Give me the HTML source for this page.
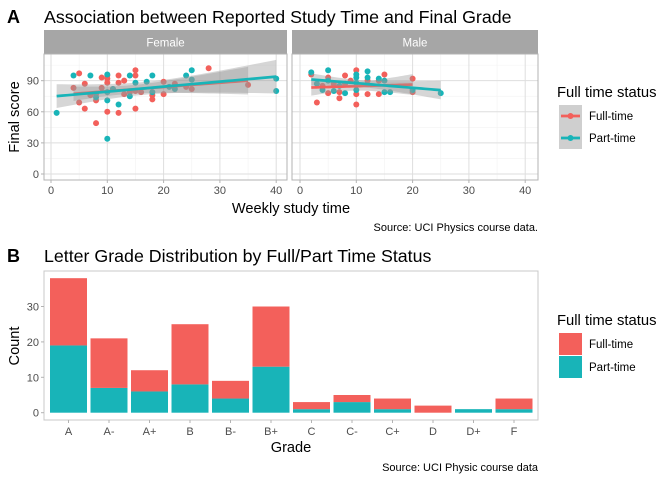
<!DOCTYPE html>
<html><head><meta charset="utf-8"><style>
body{margin:0;background:#fff;}
svg{display:block;font-family:"Liberation Sans",Arial,sans-serif;}
</style></head><body>
<svg id="c" width="672" height="480" xmlns="http://www.w3.org/2000/svg"></svg>
<script>
// ---- data: panel A ----
const femaleFullX=[4,5,5,6,6,7,8,8,9,9,10,10,10,10,11,12,12,12,13,13,14,15,15,15,15,16,18,18,20,20,22,24,25,28,35,8];
const femaleFullY=[83,97,69,87,63,76,71,49,93,83,95,92,88,60,82,95,88,59,90,77,79,100,95,80,63,79,76,72,89,77,87,84,82,102,86,77];
const femalePartX=[1,4,7,10,10,10,12,14,14,15,17,18,18,21,22,24,25,25,40,40,8,10,11];
const femalePartY=[59,95,95,96,71,34,67,95,75,88,89,95,79,84,82,95,100,91,92,80,74,79,82];
const maleFullX=[2,3,4,5,5,7,7,8,8,10,10,10,12,12,14,14,15,20,20,6,9];
const maleFullY=[96,69,85,93,78,79,73,95,87,100,77,67,90,77,90,77,96,92,79,87,90];
const malePartX=[2,4,5,5,6,8,10,10,10,10,12,12,14,15,15,16,20,25,3,7];
const malePartY=[98,81,100,90,80,78,96,93,88,81,99,93,92,90,79,79,81,78,87,85];
const xTicks=[0,10,20,30,40];
const yTicks=[0,30,60,90];
// ---- data: panel B ----
const grades=["A","A-","A+","B","B-","B+","C","C-","C+","D","D+","F"];
const partTime=[19,7,6,8,4,13,1,3,1,0,1,1];
const fullTime=[19,14,6,17,5,17,2,2,3,2,0,3];
const countTicks=[0,10,20,30];

const RED="#F3605B",TEAL="#18B4B8";
const svg=document.getElementById('c');
const NS="http://www.w3.org/2000/svg";
function el(tag,attrs,parent){const e=document.createElementNS(NS,tag);for(const k in attrs)e.setAttribute(k,attrs[k]);(parent||svg).appendChild(e);return e;}
function txt(s,attrs,parent){const e=el('text',attrs,parent);e.textContent=s;return e;}

let t;
t=txt("A",{x:7,y:23,'font-size':18,'font-weight':'bold',fill:'#000'});
t=txt("Association between Reported Study Time and Final Grade",{x:44,y:23,'font-size':17.8,fill:'#000'});
t=txt("B",{x:7,y:262,'font-size':18,'font-weight':'bold',fill:'#000'});
t=txt("Letter Grade Distribution by Full/Part Time Status",{x:44,y:262,'font-size':17.8,fill:'#000'});

const yA=v=>174-v*1.037;
const panels=[{name:'Female',x0:44,x1:287,ox:51,full:[femaleFullX,femaleFullY],part:[femalePartX,femalePartY]},
              {name:'Male',x0:292,x1:538,ox:300,full:[maleFullX,maleFullY],part:[malePartX,malePartY]}];
const PT=54,PB=180;
function lm(xs,ys){const n=xs.length;const mx=xs.reduce((a,b)=>a+b)/n,my=ys.reduce((a,b)=>a+b)/n;let sxx=0,sxy=0;for(let i=0;i<n;i++){sxx+=(xs[i]-mx)**2;sxy+=(xs[i]-mx)*(ys[i]-my);}const b=sxy/sxx,a=my-b*mx;let sse=0;for(let i=0;i<n;i++)sse+=(ys[i]-a-b*xs[i])**2;const s=Math.sqrt(sse/(n-2));return {a,b,mx,sxx,s,n,min:Math.min(...xs),max:Math.max(...xs)};}
panels.forEach((p,pi)=>{
  const g=el('g',{});
  
  
  const xs=v=>p.ox+v*5.63;
  const strip=el('rect',{x:p.x0,y:30,width:p.x1-p.x0,height:24,fill:'#a6a6a6'},g);
  
  const st=txt(p.name,{x:(p.x0+p.x1)/2,y:46.5,'text-anchor':'middle','font-size':11.5,fill:'#fff'},g);
  
  [15,45,75,105].forEach(v=>el('line',{x1:p.x0,x2:p.x1,y1:yA(v),y2:yA(v),stroke:'#f2f2f2','stroke-width':0.6},g));
  [5,15,25,35].forEach(v=>el('line',{x1:xs(v),x2:xs(v),y1:PT,y2:PB,stroke:'#f2f2f2','stroke-width':0.6},g));
  yTicks.forEach(v=>el('line',{x1:p.x0,x2:p.x1,y1:yA(v),y2:yA(v),stroke:'#dedede','stroke-width':1},g));
  xTicks.forEach(v=>{el('line',{x1:xs(v),x2:xs(v),y1:PT,y2:PB,stroke:'#dedede','stroke-width':1},g);
    el('line',{x1:xs(v),x2:xs(v),y1:PB,y2:PB+3,stroke:'#b3b3b3'},g);
    const l=txt(v,{x:xs(v),y:PB+14,'text-anchor':'middle','font-size':11,fill:'#4d4d4d'},g);
    });
  el('rect',{x:p.x0,y:PT,width:p.x1-p.x0,height:PB-PT,fill:'none',stroke:'#b3b3b3','stroke-width':1},g);
  [[p.full,RED,'full'],[p.part,TEAL,'part']].forEach(([d,c,nm])=>{
    d[0].forEach((x,i)=>{const pt=el('circle',{cx:xs(x),cy:yA(d[1][i]),r:3,fill:c},g);
      });
  });
  [[p.full,RED],[p.part,TEAL]].forEach(([d,c])=>{
    const f=lm(d[0],d[1]);let up=[],lo=[],ln=[];
    for(let k=0;k<=40;k++){const x=f.min+(f.max-f.min)*k/40;const yh=f.a+f.b*x;const se=f.s*Math.sqrt(1/f.n+(x-f.mx)**2/f.sxx)*2.02;
      up.push(xs(x)+','+yA(yh+se));lo.unshift(xs(x)+','+yA(yh-se));ln.push(xs(x)+','+yA(yh));}
    const r=el('polygon',{points:up.concat(lo).join(' '),fill:'#999',opacity:0.4},g);
    
    const l=el('polyline',{points:ln.join(' '),fill:'none',stroke:c,'stroke-width':2.7},g);
    
  });
  if(pi===0){yTicks.forEach(v=>{el('line',{x1:p.x0-3,x2:p.x0,y1:yA(v),y2:yA(v),stroke:'#b3b3b3'},g);
    const l=txt(v,{x:p.x0-5,y:yA(v)+4,'text-anchor':'end','font-size':11,fill:'#4d4d4d'},g);
    });}
});
t=txt("Weekly study time",{x:291,y:213,'text-anchor':'middle','font-size':14.6,fill:'#000'});
t=txt("Final score",{x:0,y:0,'text-anchor':'middle','font-size':14.6,fill:'#000',transform:'translate(19,117) rotate(-90)'});
t=txt("Source: UCI Physics course data.",{x:538,y:231,'text-anchor':'end','font-size':11,fill:'#000'});

t=txt("Full time status",{x:557,y:97,'font-size':14.8,fill:'#000'});
[["Full-time",RED,116],["Part-time",TEAL,138]].forEach(([lab,c,y])=>{
  const g=el('g',{});
  el('rect',{x:559,y:y-11,width:23,height:22,fill:'#cfcfcf'},g);
  el('line',{x1:561,x2:580,y1:y,y2:y,stroke:c,'stroke-width':2.7},g);
  el('circle',{cx:570.5,cy:y,r:3,fill:c},g);
  txt(lab,{x:589,y:y+4,'font-size':11.5,fill:'#000'},g);
});

const bx0=44,bx1=538,bT=271,bB=420;
const yB=v=>412.7-v*3.54;
const xB=i=>68.5+i*40.5;
const gb=el('g',{});
el('rect',{x:bx0,y:bT,width:bx1-bx0,height:bB-bT,fill:'none',stroke:'#c8c8c8','stroke-width':1},gb);
grades.forEach((gr,i)=>{
  const w=37,x=xB(i)-w/2;
  let b=el('rect',{x:x,y:yB(partTime[i]),width:w,height:yB(0)-yB(partTime[i]),fill:TEAL},gb);
  
  b=el('rect',{x:x,y:yB(partTime[i]+fullTime[i]),width:w,height:yB(partTime[i])-yB(partTime[i]+fullTime[i]),fill:RED},gb);
  
  el('line',{x1:xB(i),x2:xB(i),y1:bB,y2:bB+3,stroke:'#b3b3b3'},gb);
  const l=txt(gr,{x:xB(i),y:bB+15,'text-anchor':'middle','font-size':11,fill:'#4d4d4d'},gb);
  
});
countTicks.forEach(v=>{el('line',{x1:bx0-3,x2:bx0,y1:yB(v),y2:yB(v),stroke:'#b3b3b3'},gb);
  const l=txt(v,{x:bx0-5,y:yB(v)+4,'text-anchor':'end','font-size':11,fill:'#4d4d4d'},gb);
  });
t=txt("Grade",{x:291,y:452,'text-anchor':'middle','font-size':14.6,fill:'#000'});
t=txt("Count",{x:0,y:0,'text-anchor':'middle','font-size':14.6,fill:'#000',transform:'translate(19,346) rotate(-90)'});
t=txt("Source: UCI Physic course data",{x:538,y:471,'text-anchor':'end','font-size':11,fill:'#000'});
t=txt("Full time status",{x:557,y:325,'font-size':14.8,fill:'#000'});
[["Full-time",RED,344],["Part-time",TEAL,367]].forEach(([lab,c,y])=>{
  const g=el('g',{});
  el('rect',{x:559,y:y-11,width:23,height:22,fill:c},g);
  txt(lab,{x:589,y:y+4,'font-size':11.5,fill:'#000'},g);
});
</script>
</body></html>
